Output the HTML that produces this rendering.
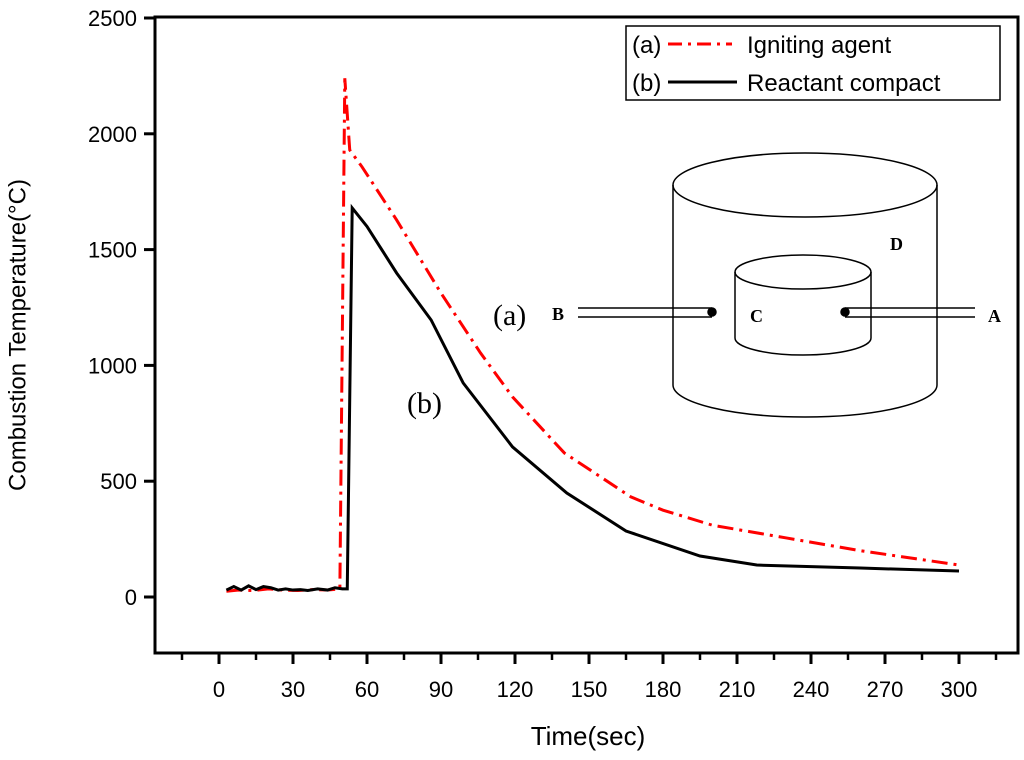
<!DOCTYPE html>
<html><head><meta charset="utf-8"><style>
body{margin:0;background:#fff;}
svg{display:block;font-family:"Liberation Sans",Arial,sans-serif;}
</style></head><body>
<svg id="chart" width="1024" height="760">
<rect x="155" y="17" width="863" height="636" fill="none" stroke="#000" stroke-width="3"/>
<g id="ticks"></g>
<g id="series"></g>
<text x="18" y="335" font-size="24" transform="rotate(-90 18 335)" text-anchor="middle" dominant-baseline="central">Combustion Temperature(°C)</text>
<text x="588" y="745" font-size="26" text-anchor="middle">Time(sec)</text>
<g>
<rect x="626" y="26" width="374" height="74" fill="#fff" stroke="#000" stroke-width="1.5"/>
<g>
<text x="632" y="53" font-size="24">(a)</text>
<line x1="668" y1="44" x2="732" y2="44" stroke="red" stroke-width="3" stroke-dasharray="14,6,3,6"/>
<text x="747" y="53" font-size="24">Igniting agent</text></g>
<g>
<text x="632" y="91" font-size="24">(b)</text>
<line x1="668" y1="82" x2="737" y2="82" stroke="#000" stroke-width="3"/>
<text x="747" y="91" font-size="24">Reactant compact</text></g>
</g>
<g fill="none" stroke="#000" stroke-width="1.5">
<ellipse cx="805" cy="185" rx="132" ry="32"/>
<path d="M673 185 V385 A132 32 0 0 0 937 385 V185"/>
<ellipse cx="803" cy="272" rx="68" ry="17" fill="#fff"/>
<path d="M735 272 V338 A68 17 0 0 0 871 338 V272"/>
<path d="M578 308 H712 M578 317 H712 M845 308 H975 M845 317 H975"/>
<circle cx="712" cy="312" r="4" fill="#000"/>
<circle cx="845" cy="312" r="4" fill="#000"/>
</g>
<g font-family="'Liberation Serif',serif">
<text x="493" y="325" font-size="30">(a)</text>
<text x="552" y="320" font-size="18" font-weight="bold">B</text>
<text x="750" y="322" font-size="18" font-weight="bold">C</text>
<text x="988" y="322" font-size="18" font-weight="bold">A</text>
<text x="890" y="250" font-size="18" font-weight="bold">D</text>
<text x="407" y="413" font-size="30">(b)</text>
</g>
</svg>
<script>
const xTicks=[0,30,60,90,120,150,180,210,240,270,300];
const yTicks=[0,500,1000,1500,2000,2500];
const tA=[3,8,14,20,26,32,38,44,49,51,53,58,72,90,106,119,140,167,180,200,230,260,300];
const vA=[25,30,28,35,30,28,32,30,35,2240,1930,1857,1628,1312,1054,864,622,432,375,310,255,200,138];
const tB=[3,6,9,12,15,18,21,24,27,30,33,36,40,44,47,50,52,54,60,72,86,99,119,141,165,195,218,260,300];
const vB=[30,45,30,48,32,45,40,30,35,30,32,28,35,30,40,35,35,1680,1600,1399,1196,924,648,449,285,177,138,125,112];
const X=t=>219+(t/30)*74;
const Y=v=>597-v*0.2316;
const NS="http://www.w3.org/2000/svg";
const tk=document.getElementById('ticks');
function mk(tag,attrs,parent){const e=document.createElementNS(NS,tag);for(const k in attrs)e.setAttribute(k,attrs[k]);parent.appendChild(e);return e;}
for(let t=-15;t<=315;t+=15){const major=t%30===0;
const l=mk('line',{x1:X(t),x2:X(t),y1:653,y2:major?664:660,stroke:'#000','stroke-width':major?3:2.5},tk);

}
xTicks.forEach(t=>{const s=mk('text',{x:X(t),y:697,'font-size':22,'text-anchor':'middle'},tk);s.textContent=t;

});
yTicks.forEach(v=>{const l=mk('line',{x1:144,x2:155,y1:Y(v),y2:Y(v),stroke:'#000','stroke-width':3},tk);


const s=mk('text',{x:137,y:Y(v)+8,'font-size':22,'text-anchor':'end'},tk);s.textContent=v;

});
const sg=document.getElementById('series');
const pa=mk('polyline',{points:tA.map((t,i)=>X(t)+','+Y(vA[i])).join(' '),fill:'none',stroke:'red','stroke-width':3,'stroke-dasharray':'16,6,3,6'},sg);


const pb=mk('polyline',{points:tB.map((t,i)=>X(t)+','+Y(vB[i])).join(' '),fill:'none',stroke:'#000','stroke-width':3},sg);


</script>
</body></html>
